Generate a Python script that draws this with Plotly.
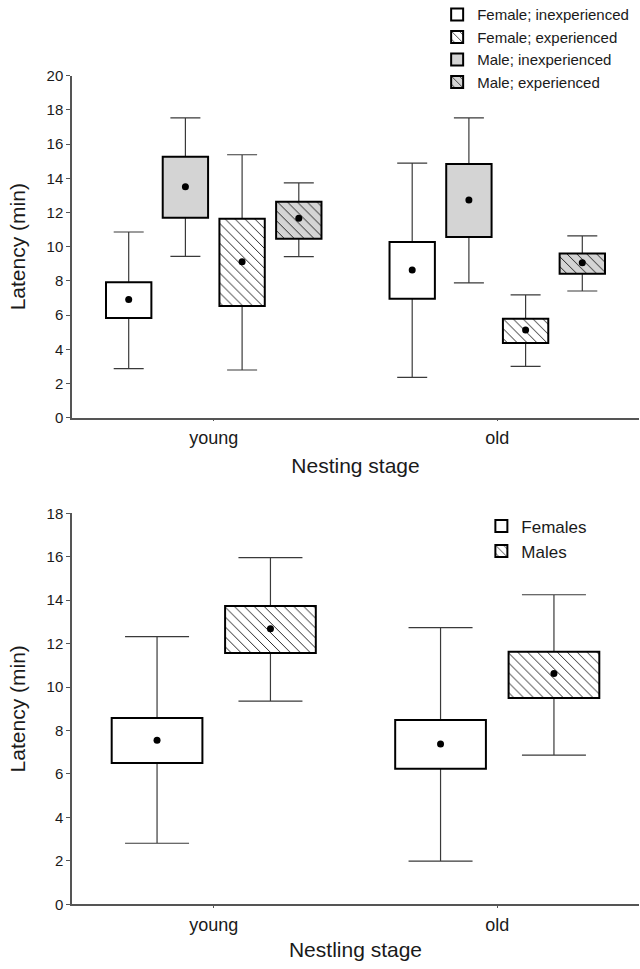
import plotly.graph_objects as go

# ---------------- data ----------------
stages = ["young", "old"]

# top panel (Nesting stage)
top_names = ["Female; inexperienced", "Female; experienced", "Male; inexperienced", "Male; experienced"]
fi_mean = [6.92, 8.64]
fi_box_lo = [5.83, 6.96]
fi_box_hi = [7.92, 10.27]
fi_wh_lo = [2.87, 2.36]
fi_wh_hi = [10.86, 14.89]

fe_mean = [9.12, 5.13]
fe_box_lo = [6.53, 4.37]
fe_box_hi = [11.64, 5.79]
fe_wh_lo = [2.79, 3.00]
fe_wh_hi = [15.38, 7.18]

mi_mean = [13.51, 12.73]
mi_box_lo = [11.70, 10.57]
mi_box_hi = [15.26, 14.84]
mi_wh_lo = [9.44, 7.89]
mi_wh_hi = [17.53, 17.54]

me_mean = [11.66, 9.06]
me_box_lo = [10.47, 8.42]
me_box_hi = [12.63, 9.61]
me_wh_lo = [9.42, 7.41]
me_wh_hi = [13.74, 10.63]

# bottom panel (Nestling stage)
bot_names = ["Females", "Males"]
f_mean = [7.55, 7.38]
f_box_lo = [6.51, 6.24]
f_box_hi = [8.58, 8.49]
f_wh_lo = [2.81, 1.99]
f_wh_hi = [12.32, 12.74]

m_mean = [12.69, 10.62]
m_box_lo = [11.57, 9.50]
m_box_hi = [13.73, 11.63]
m_wh_lo = [9.35, 6.87]
m_wh_hi = [15.96, 14.25]

# ---------------- styling ----------------
FONT = "Liberation Sans, Arial, sans-serif"
TXT = "#1a1a1a"
AX = "#555555"
WHISK = "#3a3a3a"
GREY = "#d4d4d4"

top_series = [
    # name, mean, blo, bhi, wlo, whi, offset, bg, hatch
    (top_names[0], fi_mean, fi_box_lo, fi_box_hi, fi_wh_lo, fi_wh_hi, -0.3, "white", ""),
    (top_names[1], fe_mean, fe_box_lo, fe_box_hi, fe_wh_lo, fe_wh_hi, 0.1, "white", "\\"),
    (top_names[2], mi_mean, mi_box_lo, mi_box_hi, mi_wh_lo, mi_wh_hi, -0.1, GREY, ""),
    (top_names[3], me_mean, me_box_lo, me_box_hi, me_wh_lo, me_wh_hi, 0.3, GREY, "\\"),
]
bot_series = [
    (bot_names[0], f_mean, f_box_lo, f_box_hi, f_wh_lo, f_wh_hi, -0.2, "white", ""),
    (bot_names[1], m_mean, m_box_lo, m_box_hi, m_wh_lo, m_wh_hi, 0.2, "white", "\\"),
]

fig = go.Figure()


def add_panel(series, base_x, base_y, ov_x, ov_y, box_w, cap_w, legend, pat_size):
    idx = list(range(len(stages)))
    for name, mean, blo, bhi, wlo, whi, off, bg, hatch in series:
        xs = [i + off for i in idx]
        # whiskers (on base axes, drawn beneath the boxes)
        fig.add_trace(go.Scatter(
            x=xs, y=mean, mode="markers", xaxis=base_x, yaxis=base_y,
            marker=dict(size=1, opacity=0), showlegend=False, hoverinfo="skip",
            error_y=dict(type="data", symmetric=False,
                         array=[h - m for h, m in zip(whi, mean)],
                         arrayminus=[m - l for m, l in zip(mean, wlo)],
                         color=WHISK, thickness=1.2, width=cap_w),
        ))
    for name, mean, blo, bhi, wlo, whi, off, bg, hatch in series:
        xs = [i + off for i in idx]
        fig.add_trace(go.Bar(
            x=xs, y=[h - l for h, l in zip(bhi, blo)], base=blo, width=box_w,
            xaxis=ov_x, yaxis=ov_y, name=name, legend=legend,
            marker=dict(color=bg, line=dict(color="black", width=2),
                        pattern=dict(shape=hatch, fgcolor="#111111", bgcolor=bg,
                                     size=pat_size, solidity=0.13, fillmode="replace")),
        ))
    for name, mean, blo, bhi, wlo, whi, off, bg, hatch in series:
        xs = [i + off for i in idx]
        fig.add_trace(go.Scatter(
            x=xs, y=mean, mode="markers", xaxis=ov_x, yaxis=ov_y,
            marker=dict(color="black", size=7), showlegend=False,
        ))


add_panel(top_series, "x", "y", "x3", "y3", 0.16, 15, "legend", 7)
add_panel(bot_series, "x2", "y2", "x4", "y4", 0.32, 32, "legend2", 7)

xcommon = dict(range=[-0.5, 1.5], showgrid=False, zeroline=False, automargin=False)
xvis = dict(xcommon, tickvals=[0, 1], ticktext=stages, showline=True, linecolor=AX,
            linewidth=1.5, ticks="outside", ticklen=2, tickcolor=AX,
            tickfont=dict(size=18, color=TXT, family=FONT), ticklabelstandoff=1)
ycommon = dict(showgrid=False, zeroline=False, automargin=False)
yvis = dict(ycommon, dtick=2, showline=True, linecolor=AX, linewidth=1.5,
            ticks="outside", ticklen=4, tickcolor=AX,
            tickfont=dict(size=15, color=TXT, family=FONT))

TOP_DOM = [0.5719, 0.9400]
BOT_DOM = [0.0481, 0.4690]

fig.update_layout(
    width=640, height=969,
    margin=dict(l=72, r=1, t=20, b=20, autoexpand=False),
    paper_bgcolor="white", plot_bgcolor="white",
    barmode="overlay",
    font=dict(family=FONT, color=TXT),
    xaxis=dict(xvis, anchor="y",
               title=dict(text="Nesting stage", font=dict(size=21, color=TXT), standoff=11)),
    yaxis=dict(yvis, anchor="x", domain=TOP_DOM, range=[0, 20],
               title=dict(text="Latency (min)", font=dict(size=21, color=TXT), standoff=15)),
    xaxis2=dict(xvis, anchor="y2",
                title=dict(text="Nestling stage", font=dict(size=21, color=TXT), standoff=9)),
    yaxis2=dict(yvis, anchor="x2", domain=BOT_DOM, range=[0, 18],
                title=dict(text="Latency (min)", font=dict(size=21, color=TXT), standoff=15)),
    xaxis3=dict(xcommon, overlaying="x", anchor="y3", visible=False),
    yaxis3=dict(ycommon, overlaying="y", anchor="x3", range=[0, 20], visible=False),
    xaxis4=dict(xcommon, overlaying="x2", anchor="y4", visible=False),
    yaxis4=dict(ycommon, overlaying="y2", anchor="x4", range=[0, 18], visible=False),
    legend=dict(x=0.644, y=1.0235, xanchor="left", yanchor="top",
                font=dict(size=15, color=TXT, family=FONT), bgcolor="rgba(0,0,0,0)",
                tracegroupgap=0),
    legend2=dict(x=0.722, y=0.4742, xanchor="left", yanchor="top",
                 font=dict(size=17, color=TXT, family=FONT), bgcolor="rgba(0,0,0,0)",
                 tracegroupgap=0),
    showlegend=True,
)

# remove the browser's default 8px page margin so the figure sits at (0, 0)
fig.write_html("out.html", config={"displayModeBar": False},
               post_script="document.body.style.margin='0';")
